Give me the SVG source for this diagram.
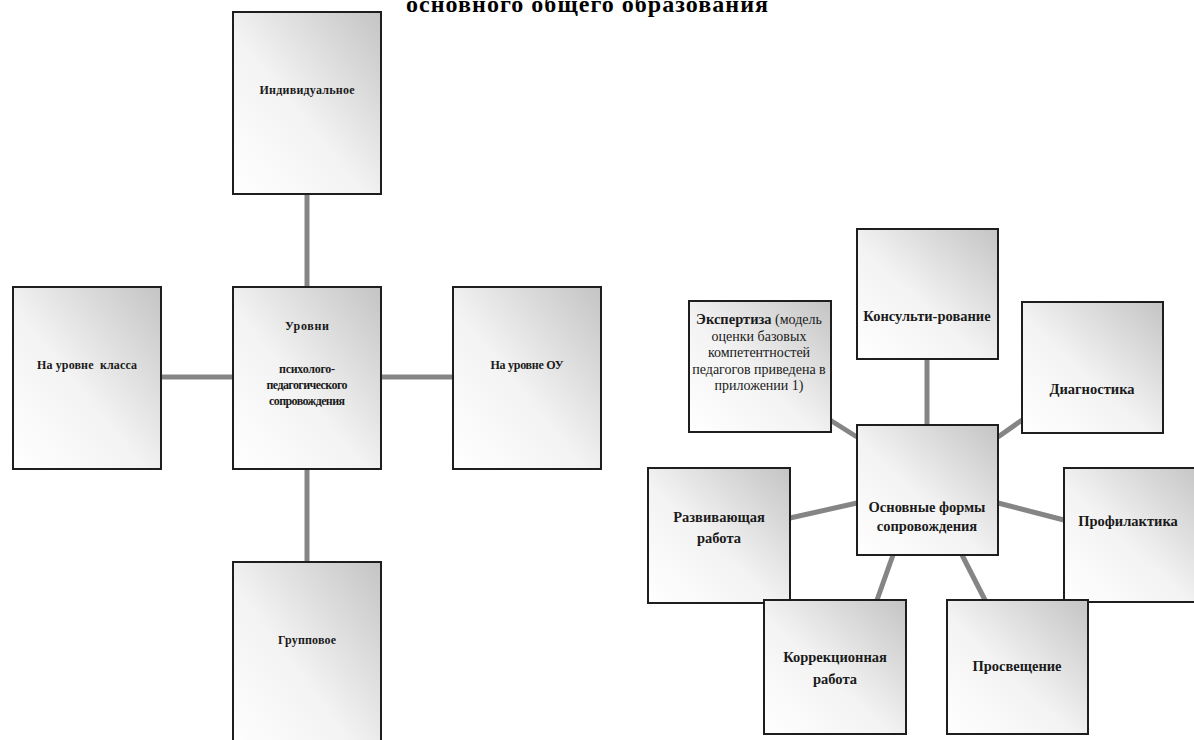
<svg xmlns="http://www.w3.org/2000/svg" width="1194" height="740" viewBox="0 0 1194 740">
<defs>
<linearGradient id="g" x1="0" y1="1" x2="1" y2="0">
<stop offset="0" stop-color="#ffffff"/>
<stop offset="0.45" stop-color="#f3f3f3"/>
<stop offset="1" stop-color="#c4c4c4"/>
</linearGradient>
</defs>
<style>
.box{fill:url(#g);stroke:#1e1e1e;stroke-width:2}
.c{stroke:#858585;stroke-width:5;fill:none}
.s{font-family:"Liberation Serif",serif;font-weight:bold;font-size:12px;fill:#1a1a1a;text-anchor:middle}
.t{font-family:"Liberation Serif",serif;font-weight:bold;font-size:14.5px;fill:#1a1a1a;text-anchor:middle}
.n{font-family:"Liberation Serif",serif;font-weight:normal;font-size:14px;fill:#1a1a1a;text-anchor:middle}
.h{font-family:"Liberation Serif",serif;font-weight:bold;font-size:24px;fill:#000;text-anchor:middle}
</style>
<rect width="1194" height="740" fill="#fff"/>
<text class="h" x="587" y="12" textLength="362">основного общего образования</text>
<g id="connectors">
<line class="c" x1="307" y1="194" x2="307" y2="287"/>
<line class="c" x1="307" y1="469" x2="307" y2="562"/>
<line class="c" x1="161" y1="377" x2="233" y2="377"/>
<line class="c" x1="381" y1="377" x2="453" y2="377"/>
<line class="c" x1="927" y1="358" x2="927" y2="425"/>
<line class="c" x1="830" y1="420" x2="857" y2="437"/>
<line class="c" x1="1022" y1="420" x2="998" y2="437"/>
<line class="c" x1="790" y1="518" x2="857" y2="503"/>
<line class="c" x1="998" y1="503" x2="1064" y2="520"/>
<line class="c" x1="893" y1="555" x2="877" y2="600"/>
<line class="c" x1="962" y1="555" x2="985" y2="600"/>
</g>
<g id="individ">
<rect class="box" x="233" y="12" width="148" height="182"/>
<text class="s" x="307" y="94" textLength="95">Индивидуальное</text>
</g>
<g id="levels">
<rect class="box" x="233" y="287" width="148" height="182"/>
<text class="s" x="307" y="330" textLength="44">Уровни</text>
<text class="s" x="307" y="373" textLength="56">психолого-</text>
<text class="s" x="307" y="389" textLength="81">педагогического</text>
<text class="s" x="307" y="405" textLength="76">сопровождения</text>
</g>
<g id="klass">
<rect class="box" x="13" y="287" width="148" height="182"/>
<text class="s" x="87" y="369" textLength="100" xml:space="preserve">На уровне  класса</text>
</g>
<g id="ou">
<rect class="box" x="453" y="287" width="148" height="182"/>
<text class="s" x="527" y="369" textLength="73">На уровне ОУ</text>
</g>
<g id="group">
<rect class="box" x="233" y="562" width="148" height="200"/>
<text class="s" x="307" y="644" textLength="58">Групповое</text>
</g>
<g id="konsult">
<rect class="box" x="857" y="229" width="141" height="130"/>
<text class="t" x="927" y="321">Консульти-рование</text>
</g>
<g id="expert">
<rect class="box" x="689" y="301" width="142" height="131"/>
<text class="n" x="759" y="324"><tspan font-weight="bold" font-size="14.5">Экспертиза</tspan>  (модель</text>
<text class="n" x="759" y="341">оценки базовых</text>
<text class="n" x="759" y="357">компетентностей</text>
<text class="n" x="759" y="374">педагогов приведена в</text>
<text class="n" x="759" y="390">приложении 1)</text>
</g>
<g id="diag">
<rect class="box" x="1022" y="302" width="141" height="131"/>
<text class="t" x="1092" y="394">Диагностика</text>
</g>
<g id="center">
<rect class="box" x="857" y="425" width="141" height="130"/>
<text class="t" x="927" y="512">Основные формы</text>
<text class="t" x="927" y="531">сопровождения</text>
</g>
<g id="razv">
<rect class="box" x="648" y="468" width="142" height="135"/>
<text class="t" x="719" y="522">Развивающая</text>
<text class="t" x="719" y="543">работа</text>
</g>
<g id="prof">
<rect class="box" x="1064" y="468" width="140" height="134"/>
<text class="t" x="1128" y="526">Профилактика</text>
</g>
<g id="korr">
<rect class="box" x="764" y="600" width="142" height="134"/>
<text class="t" x="835" y="662">Коррекционная</text>
<text class="t" x="835" y="684">работа</text>
</g>
<g id="prosv">
<rect class="box" x="947" y="600" width="141" height="134"/>
<text class="t" x="1017" y="671">Просвещение</text>
</g>
</svg>
